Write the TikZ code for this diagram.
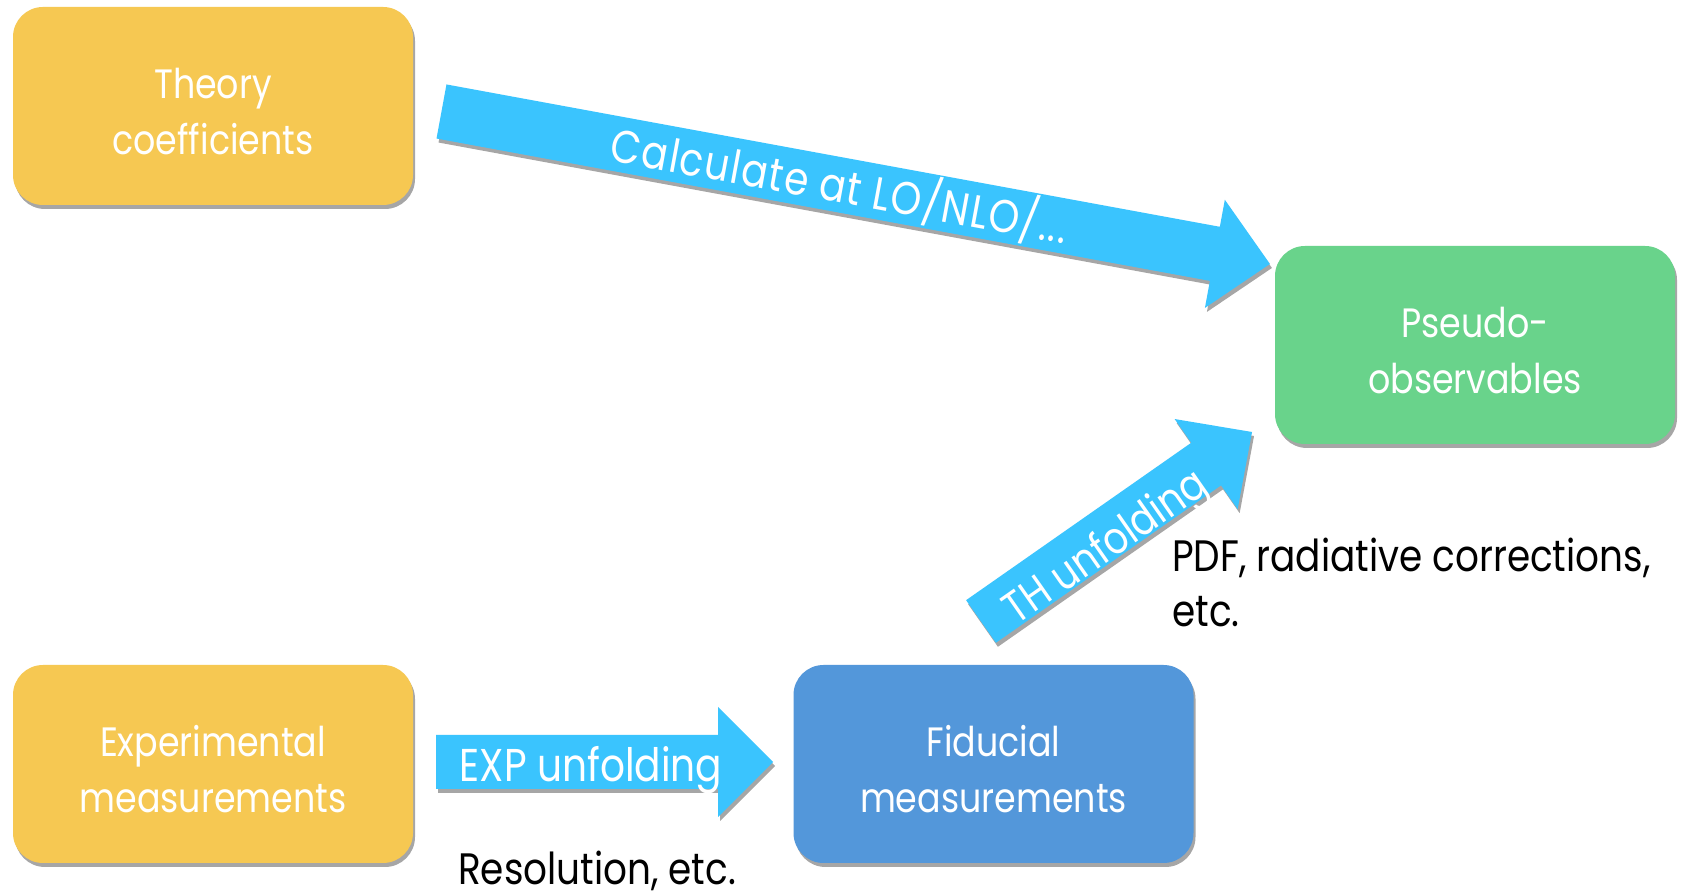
\documentclass[tikz,border=0pt]{standalone}
\usepackage{fontspec}
\newfontfamily\ff[FakeStretch=0.85]{Poppins}
\newfontfamily\ffsp[FakeStretch=0.85,LetterSpace=3]{Poppins}
\usetikzlibrary{shadows}
\definecolor{boxyellow}{HTML}{F6C852}
\definecolor{boxgreen}{HTML}{69D38B}
\definecolor{boxblue}{HTML}{5397DA}
\definecolor{arrowblue}{HTML}{3AC4FE}
\newcommand\toprule{\rule{0pt}{45pt}}
\newcommand\botrule{\rule[-3pt]{0pt}{3pt}}
\tikzset{
  shad/.style={drop shadow={shadow xshift=2pt, shadow yshift=-4pt, fill=black, opacity=0.35}},
  box/.style={rounded corners=30pt, minimum width=400pt, minimum height=198pt,
    inner sep=0pt, align=center, text=white, shad,
    font=\ff\fontsize{41}{56}\selectfont},
  fat/.style={fill=arrowblue, shad},
  arrowtext/.style={text=white, inner sep=0pt, font=\ff\fontsize{46}{56}\selectfont},
  note/.style={text=black, inner sep=0pt, align=left, font=\ff\fontsize{44}{55}\selectfont},
}
\begin{document}
\begin{tikzpicture}[x=1pt,y=1pt]
\useasboundingbox[fill=white] (0,0) rectangle (1682,896);
% boxes
\node[box, fill=boxyellow] (theory) at (213,790) {\toprule Theory\\coefficients\botrule};
\node[box, fill=boxyellow] (exp) at (213,132) {\toprule Experimental\\measurements\botrule};
\node[box, fill=boxblue] (fid) at (993.5,132) {\toprule Fiducial\\measurements\botrule};
\node[box, fill=boxgreen] (pseudo) at (1475,551) {\toprule Pseudo-\\observables\botrule};
% arrow anchor points
\coordinate (calcTail) at (441.5,784.5);
\coordinate (thTail) at (981,274.5);
\coordinate (expTail) at (436,134);
% Calculate arrow
\begin{scope}[shift={(calcTail)}, rotate=-10.43]
  \fill[fat] (0,-27.5) -- (786.4,-27.5) -- (786.4,-55) -- (842.4,0) -- (786.4,55) -- (786.4,27.5) -- (0,27.5) -- cycle;
  \node[arrowtext, font=\ffsp\fontsize{46}{56}\selectfont, rotate=-10.43] (calcLabel) at (405,0) {Calculate at LO/NLO/...};
\end{scope}
% TH arrow
\begin{scope}[shift={(thTail)}, rotate=34.96]
  \fill[fat] (0,-26) -- (274.7,-26) -- (274.7,-55) -- (330.7,0) -- (274.7,55) -- (274.7,26) -- (0,26) -- cycle;
  \node[arrowtext, font=\ff\fontsize{44.5}{56}\selectfont, rotate=34.96] (thLabel) at (145,-13) {TH unfolding};
\end{scope}
% EXP arrow
\begin{scope}[shift={(expTail)}]
  \fill[fat] (0,-27) -- (282,-27) -- (282,-55) -- (337,0) -- (282,55) -- (282,27) -- (0,27) -- cycle;
\end{scope}
\node[arrowtext, anchor=base] (expLabel) at (591,114) {EXP unfolding};
% notes
\node[note, anchor=base west] (pdfNote) at (1172,269) {PDF, radiative corrections,\\etc.};
\node[note, anchor=base west] (resNote) at (458,11) {Resolution, etc.};
\end{tikzpicture}
\end{document}
